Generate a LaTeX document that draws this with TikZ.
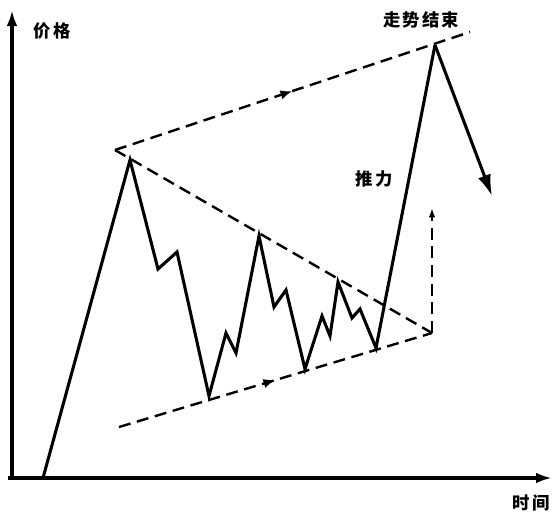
\documentclass[tikz,border=0pt]{standalone}
\usepackage{fontspec}
\newfontfamily\cjk{Noto Sans CJK SC}[LetterSpace=12]
\usetikzlibrary{arrows.meta,decorations.markings}
\begin{document}
\begin{tikzpicture}[x=0.75pt,y=-0.75pt,
  axis/.style={line width=2.4pt,-{Latex[length=12pt,width=8pt]}},
  price/.style={line width=2.3pt,line join=miter},
  trend/.style={line width=1.8pt,dash pattern=on 9pt off 5pt},
  midarrow/.style={postaction={decorate},decoration={markings,mark=at position 0.5 with {\arrow{Latex[length=9pt,width=7pt]}}}},
  lbl/.style={font=\cjk\fontsize{13}{15}\selectfont\bfseries,inner sep=0pt}]
\useasboundingbox (0,0) rectangle (553,511);
% coordinates
\coordinate (O) at (12,478);
\coordinate (Ytip) at (12,10);
\coordinate (Xtip) at (552,478);
\coordinate (S) at (43,478);
\coordinate (P1) at (130,160);
\coordinate (A) at (115,150);
\coordinate (U) at (470,32);
\coordinate (Ap) at (432,333);
\coordinate (L) at (119,427);
\coordinate (Vt) at (432,208);
\coordinate (Top) at (435,45);
\coordinate (End) at (492,196);
% axes
\draw[axis] (O) -- (Ytip);
\draw[axis] ([xshift=-3]O) -- (Xtip);
\node[lbl] (ylab) at (52,31) {价格};
\node[lbl] (xlab) at (531,503) {时间};
\node[lbl] (end) at (421,20) {走势结束};
\node[lbl] (push) at (374,179) {推力};
% trend lines
\draw[trend,midarrow] (A) -- (U);
\draw[trend] (A) -- (Ap);
\draw[trend,midarrow] (L) -- (Ap);
\draw[trend,-{Latex[length=7pt,width=5pt]}] (Ap) -- (Vt);
% price path
\draw[price] (S) -- (P1) -- (158,269) -- (177,252) -- (209,396) -- (226,333) -- (236,353)
  -- (259,236) -- (274,307) -- (286,290) -- (305,369) -- (322,316) -- (330,336)
  -- (338,282) -- (352,318) -- (360,309) -- (376,348) -- (Top);
\draw[price,-{Latex[length=16pt,width=10pt]}] (Top) -- (End);
\end{tikzpicture}
\end{document}
